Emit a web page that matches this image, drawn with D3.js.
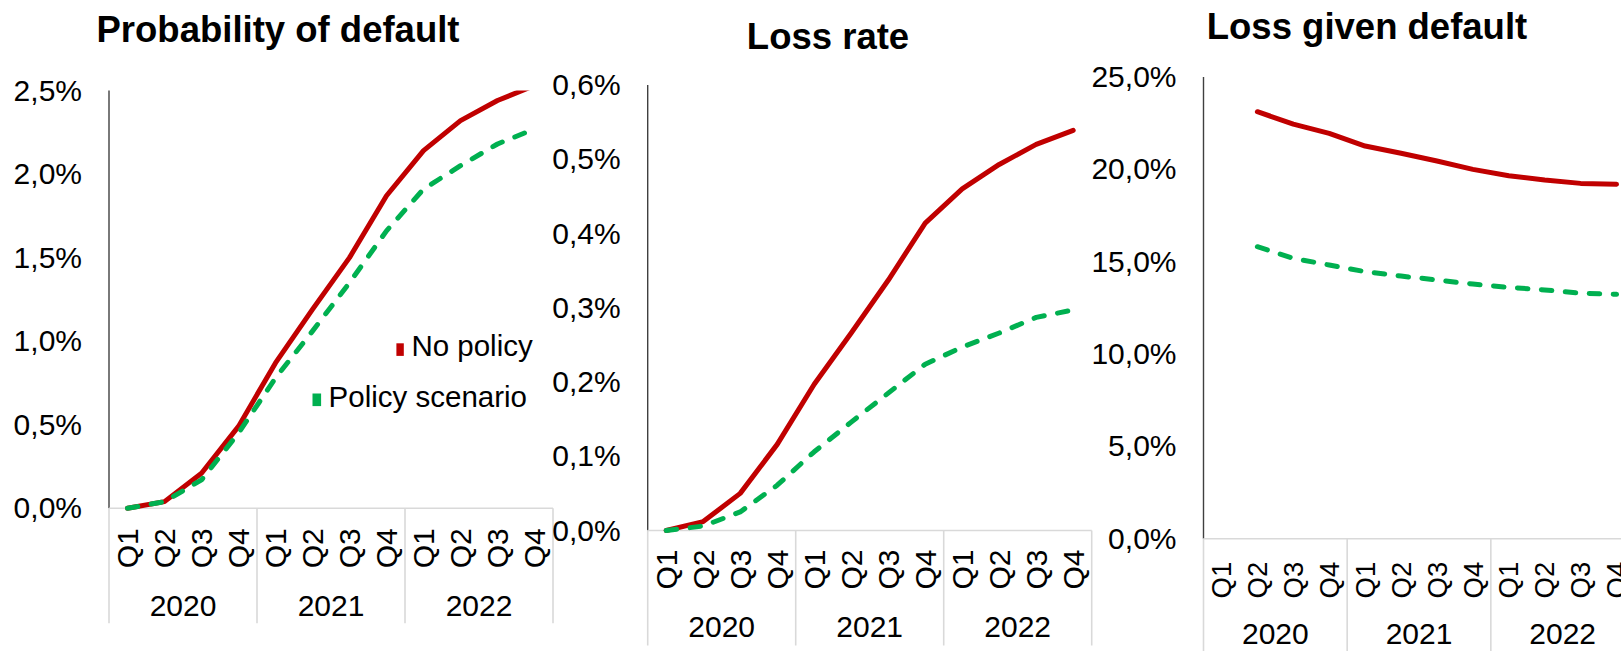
<!DOCTYPE html>
<html>
<head>
<meta charset="utf-8">
<script src="https://cdn.jsdelivr.net/npm/d3@7"></script>
<style>
  html, body { margin: 0; padding: 0; background: #fff; overflow: hidden; }
  svg { display: block; font-family: "Liberation Sans", Arial, sans-serif; }
</style>
</head>
<body>
<svg id="chart" width="1621" height="651"></svg>
<script>
// ---- data (percent) ----
const years = ["2020", "2021", "2022"];
const quarters = ["Q1", "Q2", "Q3", "Q4"];
const seriesNames = ["No policy", "Policy scenario"];

const pdNoPolicy = [0.00, 0.04, 0.21, 0.49, 0.87, 1.19, 1.50, 1.87, 2.14, 2.32, 2.44, 2.53];
const pdPolicy   = [0.00, 0.04, 0.17, 0.45, 0.78, 1.06, 1.35, 1.66, 1.91, 2.05, 2.18, 2.27];

const lrNoPolicy = [0.000, 0.012, 0.050, 0.116, 0.197, 0.266, 0.337, 0.414, 0.460, 0.493, 0.520, 0.539];
const lrPolicy   = [0.000, 0.006, 0.025, 0.061, 0.106, 0.146, 0.185, 0.224, 0.247, 0.266, 0.287, 0.297];

const lgdNoPolicy = [null, 23.12, 22.45, 21.95, 21.26, 20.87, 20.45, 20.00, 19.65, 19.42, 19.24, 19.19];
const lgdPolicy   = [null, 15.81, 15.18, 14.82, 14.46, 14.22, 14.01, 13.79, 13.61, 13.47, 13.29, 13.23];

const pdTicks  = [0, 0.5, 1.0, 1.5, 2.0, 2.5];
const lrTicks  = [0, 0.1, 0.2, 0.3, 0.4, 0.5, 0.6];
const lgdTicks = [0, 5, 10, 15, 20, 25];

// ---- styling ----
const colors = ["#C00000", "#00B050"];
const lineWidth = 5;
const dashPattern = "10.5,13.5";
const labelSize = 30;
const svg = d3.select("#chart");

const locale = d3.formatLocale({ decimal: ",", thousands: ".", grouping: [3], currency: ["", "€"] });
const fmt = v => locale.format(".1f")(v) + "%";

// one category key per quarter of each year
const categories = years.flatMap(y => quarters.map(q => ({ year: y, q, key: y + " " + q })));

const panels = [
  { title: "Probability of default", titleX: 278, titleY: 42, titleSize: 36.5,
    left: 109, width: 444, top: 90.5, bottom: 508.3, max: 2.5, ticks: pdTicks,
    series: [pdNoPolicy, pdPolicy], qSize: 30, qGap: 20, yearGap: 108, legend: true },
  { title: "Loss rate", titleX: 828, titleY: 49, titleSize: 36.5,
    left: 647.7, width: 444, top: 85, bottom: 530.5, max: 0.6, ticks: lrTicks,
    series: [lrNoPolicy, lrPolicy], qSize: 30, qGap: 19, yearGap: 106.5, legend: false },
  { title: "Loss given default", titleX: 1367, titleY: 39, titleSize: 36.5,
    left: 1203.5, width: 431, top: 77, bottom: 538.7, max: 25, ticks: lgdTicks,
    series: [lgdNoPolicy, lgdPolicy], qSize: 27.5, qGap: 23, yearGap: 105.5, legend: false }
];

panels.forEach((p, pi) => {
  const g = svg.append("g");

  const x = d3.scaleBand()
    .domain(categories.map(c => c.key))
    .range([p.left, p.left + p.width]);
  const y = d3.scaleLinear().domain([0, p.max]).range([p.bottom, p.top]);

  // title
  g.append("text")
    .attr("x", p.titleX).attr("y", p.titleY)
    .attr("text-anchor", "middle")
    .attr("font-size", p.titleSize).attr("font-weight", "bold")
    .attr("fill", "#000")
    .text(p.title);

  // value axis: tick labels and the vertical line
  const yAxis = d3.axisLeft(y).tickValues(p.ticks).tickFormat(fmt).tickSize(0).tickPadding(27);
  const ya = g.append("g").attr("transform", `translate(${p.left},0)`).call(yAxis);
  ya.select(".domain").remove();
  ya.selectAll("text")
    .attr("font-size", labelSize)
    .attr("font-family", "'Liberation Sans', Arial, sans-serif")
    .attr("fill", "#000");

  g.append("line")
    .attr("x1", p.left).attr("x2", p.left)
    .attr("y1", y(p.max)).attr("y2", y(0))
    .attr("stroke", "#404040").attr("stroke-width", 1.4);

  // category axis: baseline, year separators, quarter and year labels
  g.append("line")
    .attr("x1", p.left).attr("x2", p.left + p.width)
    .attr("y1", y(0)).attr("y2", y(0))
    .attr("stroke", "#d9d9d9").attr("stroke-width", 1.6);

  const groupEdges = [0, 4, 8, 12].map(i =>
    i < 12 ? x(categories[i].key) : x(categories[11].key) + x.bandwidth());
  g.selectAll(".sep").data(groupEdges).join("line")
    .attr("x1", d => d).attr("x2", d => d)
    .attr("y1", y(0)).attr("y2", y(0) + 115)
    .attr("stroke", "#d9d9d9").attr("stroke-width", 1.6);

  g.selectAll(".qlab").data(categories).join("text")
    .attr("transform", d => `translate(${x(d.key) + x.bandwidth() / 2},${y(0) + p.qGap}) rotate(-90)`)
    .attr("text-anchor", "end")
    .attr("dy", "0.35em")
    .attr("font-size", p.qSize)
    .attr("fill", "#000")
    .text(d => d.q);

  g.selectAll(".ylab").data(years).join("text")
    .attr("x", (d, i) => (groupEdges[i] + groupEdges[i + 1]) / 2)
    .attr("y", y(0) + p.yearGap)
    .attr("text-anchor", "middle")
    .attr("font-size", labelSize)
    .attr("fill", "#000")
    .text(d => d);

  // plot-area clip (lines beyond the top of the scale are cut off)
  const clipId = "clip" + pi;
  svg.append("clipPath").attr("id", clipId)
    .append("rect")
    .attr("x", p.left - 10).attr("y", y(p.max))
    .attr("width", p.width + 20).attr("height", y(0) - y(p.max) + 30);

  const line = d3.line()
    .defined(d => d.v !== null)
    .x(d => x(d.key) + x.bandwidth() / 2)
    .y(d => y(d.v));

  p.series.forEach((vals, si) => {
    const pts = categories.map((c, i) => ({ key: c.key, v: vals[i] }));
    g.append("path")
      .datum(pts)
      .attr("clip-path", `url(#${clipId})`)
      .attr("d", line)
      .attr("fill", "none")
      .attr("stroke", colors[si])
      .attr("stroke-width", lineWidth)
      .attr("stroke-linejoin", "round")
      .attr("stroke-linecap", "round")
      .attr("stroke-dasharray", si === 1 ? dashPattern : null);
  });

  // legend
  if (p.legend) {
    const legendItems = [
      { name: seriesNames[0], color: colors[0], mx: 396.4, my: 343.3, mw: 7.4, tx: 411.4, ty: 356 },
      { name: seriesNames[1], color: colors[1], mx: 312.5, my: 393.5, mw: 8.6, tx: 328.6, ty: 407.3 }
    ];
    const lg = g.append("g");
    lg.selectAll("rect").data(legendItems).join("rect")
      .attr("x", d => d.mx).attr("y", d => d.my)
      .attr("width", d => d.mw).attr("height", 12.6)
      .attr("fill", d => d.color);
    lg.selectAll("text").data(legendItems).join("text")
      .attr("x", d => d.tx).attr("y", d => d.ty)
      .attr("font-size", 29.5)
      .attr("fill", "#000")
      .text(d => d.name);
  }
});
</script>
</body>
</html>
